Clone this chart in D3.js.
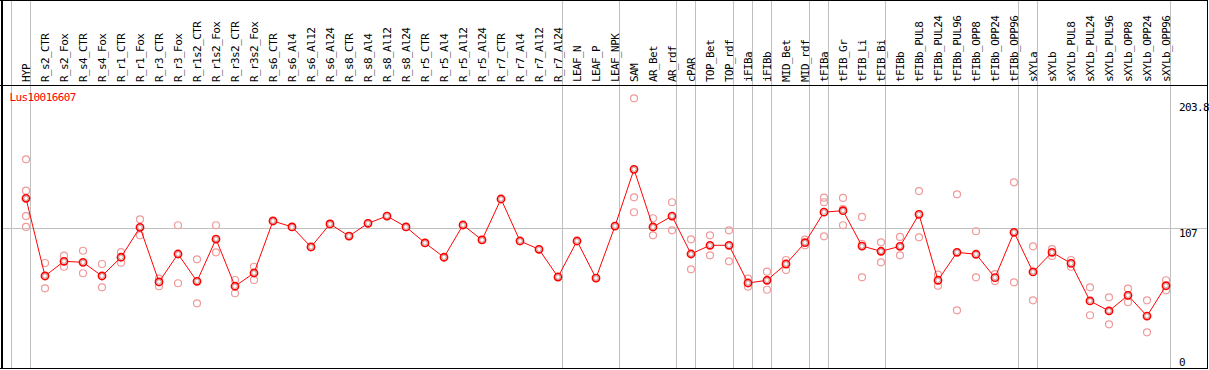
<!DOCTYPE html>
<html>
<head>
<meta charset="utf-8">
<script src="https://cdn.jsdelivr.net/npm/d3@7"></script>
<style>
body { margin:0; background:#fff; }
svg { display:block; }
text { font-family:"DejaVu Sans Mono", monospace; font-size:11px; letter-spacing:-0.6px; }
</style>
</head>
<body>
<svg></svg>
<script>
// sample names (x categories)
var samples = ["HYP","R_s2_CTR","R_s2_Fox","R_s4_CTR","R_s4_Fox","R_r1_CTR","R_r1_Fox","R_r3_CTR","R_r3_Fox",
  "R_r1s2_CTR","R_r1s2_Fox","R_r3s2_CTR","R_r3s2_Fox","R_s6_CTR","R_s6_Al4","R_s6_Al12","R_s6_Al24",
  "R_s8_CTR","R_s8_Al4","R_s8_Al12","R_s8_Al24","R_r5_CTR","R_r5_Al4","R_r5_Al12","R_r5_Al24",
  "R_r7_CTR","R_r7_Al4","R_r7_Al12","R_r7_Al24","LEAF_N","LEAF_P","LEAF_NPK","SAM","AR_Bet","AR_rdf",
  "cPAR","TOP_Bet","TOP_rdf","iFIBa","iFIBb","MID_Bet","MID_rdf","tFIBa","tFIB_Gr","tFIB_Li","tFIB_Bi",
  "tFIBb","tFIBb_PUL8","tFIBb_PUL24","tFIBb_PUL96","tFIBb_OPP8","tFIBb_OPP24","tFIBb_OPP96",
  "sXYLa","sXYLb","sXYLb_PUL8","sXYLb_PUL24","sXYLb_PUL96","sXYLb_OPP8","sXYLb_OPP24","sXYLb_OPP96"];

// mean expression per sample
var means = [129.7,70.0,81.3,80.5,70.0,84.4,107.4,65.4,86.9,
  65.9,98.4,62.1,72.3,112.3,107.7,92.3,110.0,
  100.7,110.5,116.1,107.7,95.4,84.4,109.2,97.7,
  129.2,96.9,90.5,69.2,96.9,68.4,108.4,152.0,107.7,116.1,
  86.9,93.6,93.6,64.6,66.7,79.2,95.6,119.1,120.2,93.0,89.0,
  92.8,117.4,66.7,88.2,86.7,68.7,103.6,
  73.1,88.2,79.7,50.8,43.1,55.1,39.2,62.5];

// replicate values per sample
var reps = [[159.7,135.6,116.1,107.7],[80.0,60.5],[85.6,77.1],[89.4,72.1],[79.2,61.3],[88.4,80.2],[113.6,101.3],[67.9,62.1],[109.0,64.4],
  [82.8,49.0],[109.0,88.2],[66.9,56.7],[77.1,66.9],[112.3],[107.7],[92.3],[110.0],
  [100.7],[110.5],[116.1],[107.7],[95.4],[84.4],[109.2],[97.7],
  [129.2],[96.9],[90.5],[69.2],[96.9],[68.4],[108.4],[206.6,130.5,119.0],[114.4,101.3],[126.7,105.1],
  [98.2,75.1],[101.3,85.9],[105.1,81.3],[67.9,61.8],[73.3,59.4],[82.3,74.6],[97.9,93.6],[130.2,126.7,100.5],[130.0,121.5,109.0],[115.4,94.6,69.0],[95.9,80.5],
  [100.0,85.9],[135.3,99.7],[71.0,62.5],[132.8,43.6],[104.4,69.0],[71.5,66.1],[142.0,65.1],
  [92.8,51.3],[90.7,85.4],[82.3,77.1],[61.3,39.8],[53.6,32.8],[60.2,49.8],[51.3,26.7],[66.7,59.0]];

// last sample of each group (gray separators); "" = before first
var groupEnds = ["","HYP","R_r7_Al24","LEAF_NPK","AR_rdf","cPAR","TOP_rdf","iFIBa","iFIBb","MID_rdf","tFIBa","tFIB_Bi","tFIBb_OPP96","sXYLa","sXYLb_OPP96"];

var yTicks = [0,107,203.8];
var geneName = "Lus10016607";

var screen = {width:1209,height:370};
var headerBottom = 85.5;

var svg = d3.select("svg").attr("width",screen.width).attr("height",screen.height);

var xScale = d3.scalePoint().domain(samples).range([26,1166]);
var yScale = d3.scaleLinear().domain([0,203.8]).range([367,102]);

var sepX = function(name){
  if(name==="") return xScale(samples[0]) - 19 + 4.5;
  return xScale(name) + 4.5;
}

// separators
svg.append("g").selectAll("line")
  .data(groupEnds)
  .enter()
  .append("line")
  .attr("x1",sepX).attr("x2",sepX)
  .attr("y1",0).attr("y2",368)
  .attr("stroke","#c0c0c0").attr("stroke-width",1);

// horizontal grid line
svg.append("line")
  .attr("x1",2).attr("x2",1207)
  .attr("y1",Math.round(yScale(107))+0.5).attr("y2",Math.round(yScale(107))+0.5)
  .attr("stroke","#c0c0c0");

// frame
svg.append("line").attr("x1",0).attr("x2",1208).attr("y1",0.5).attr("y2",0.5).attr("stroke","#000");
svg.append("line").attr("x1",0).attr("x2",1208).attr("y1",headerBottom).attr("y2",headerBottom).attr("stroke","#000");
svg.append("line").attr("x1",0).attr("x2",1208).attr("y1",368.5).attr("y2",368.5).attr("stroke","#000");
svg.append("line").attr("x1",2).attr("x2",2).attr("y1",0).attr("y2",369).attr("stroke","#000").attr("stroke-width",2);
svg.append("line").attr("x1",1207.5).attr("x2",1207.5).attr("y1",0).attr("y2",369).attr("stroke","#000");

// column labels
svg.append("g").selectAll("text")
  .data(samples)
  .enter()
  .append("text")
  .attr("transform",function(d){ return "translate("+(xScale(d)+4)+",82) rotate(-90)"; })
  .attr("fill","#000")
  .text(function(d){ return d; });

// y labels
svg.append("g").selectAll("text")
  .data(yTicks)
  .enter()
  .append("text")
  .attr("x",1179)
  .attr("y",function(d){ return Math.min(yScale(d)+9,366); })
  .attr("fill","#000")
  .text(function(d){ return d; });

svg.append("text").attr("x",9.5).attr("y",101).attr("fill","#ff0000").text(geneName);

// replicates
var repPts = [];
reps.forEach(function(r,i){ r.forEach(function(v){ repPts.push({s:samples[i],v:v}); }); });
svg.append("g").selectAll("circle")
  .data(repPts)
  .enter()
  .append("circle")
  .attr("cx",function(d){ return xScale(d.s); })
  .attr("cy",function(d){ return yScale(d.v); })
  .attr("r",3.5)
  .attr("fill","none")
  .attr("stroke","#f09a9a")
  .attr("stroke-width",1.2);

// mean line
var line = d3.line()
  .x(function(d,i){ return xScale(samples[i]); })
  .y(function(d){ return yScale(d); });
svg.append("path").datum(means)
  .attr("d",line)
  .attr("fill","none")
  .attr("stroke","#ff0000")
  .attr("stroke-width",1);

var meanG = svg.append("g").selectAll("g")
  .data(means)
  .enter()
  .append("g")
  .attr("transform",function(d,i){ return "translate("+xScale(samples[i])+","+yScale(d)+")"; });
meanG.append("circle").attr("r",3.6).attr("fill","#fff").attr("stroke","#ff0000").attr("stroke-width",1.6);
meanG.append("circle").attr("r",2.2).attr("fill","none").attr("stroke","#600000").attr("stroke-width",0.6).attr("opacity",0.6);
</script>
</body>
</html>
